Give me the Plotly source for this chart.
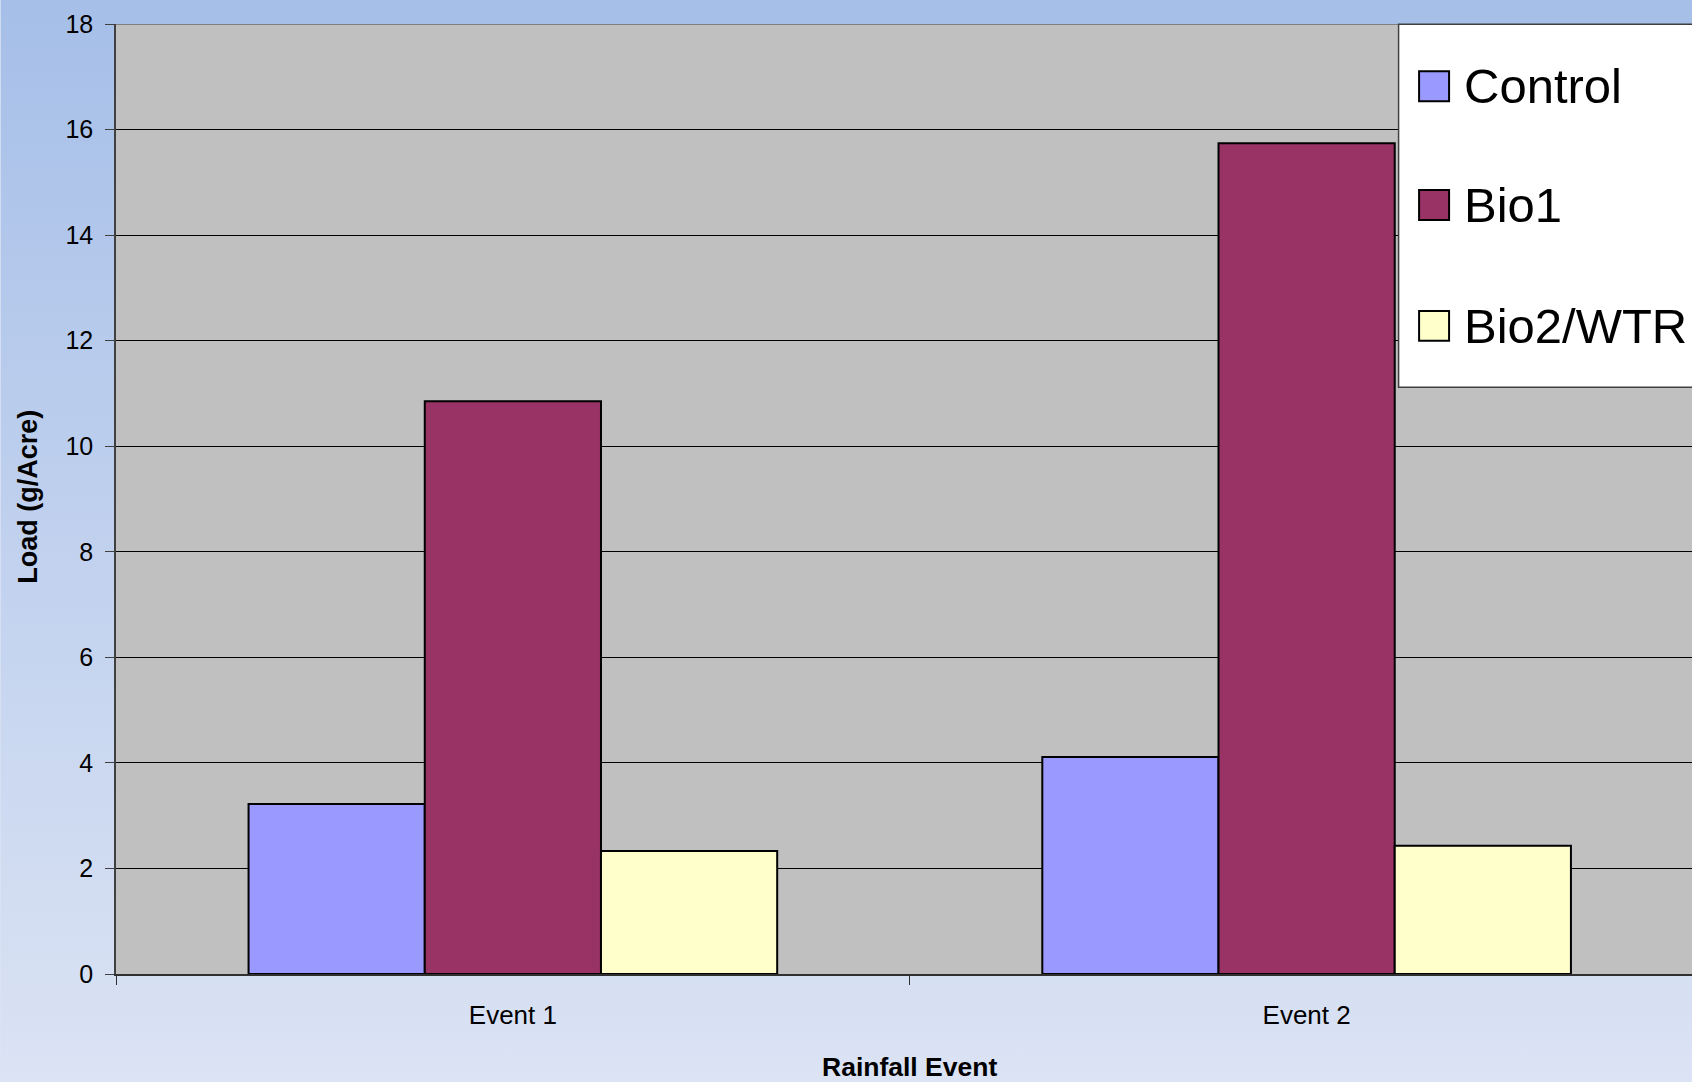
import base64
import plotly.graph_objects as go

# ---- data ----
categories = ["Event 1", "Event 2"]
series_names = ["Control", "Bio1", "Bio2/WTR"]
control = [3.22, 4.11]
bio1 = [10.85, 15.74]
bio2_wtr = [2.33, 2.43]
y_ticks = [0, 2, 4, 6, 8, 10, 12, 14, 16, 18]

series_values = [control, bio1, bio2_wtr]
series_colors = ["#9999FF", "#993366", "#FFFFCC"]

# ---- figure geometry (pixels) ----
FIG_W, FIG_H = 1692, 1082
LEFT, TOP, BOTTOM = 115.5, 24.0, 974.4
PLOT_W = FIG_W - LEFT
PLOT_H = BOTTOM - TOP
CAT_W = 794.0  # width of one category slot


def px_x(px):
    return (px - LEFT) / PLOT_W


def px_y(py):
    return (BOTTOM - py) / PLOT_H


FONT = "Liberation Sans, Arial, sans-serif"

fig = go.Figure()
for name, vals, color in zip(series_names, series_values, series_colors):
    fig.add_trace(go.Bar(
        x=categories, y=vals, name=name,
        marker=dict(color=color, line=dict(color="black", width=2)),
        showlegend=False,
    ))

# vertical gradient behind everything
svg = (
    '<svg xmlns="http://www.w3.org/2000/svg" width="100" height="100" preserveAspectRatio="none">'
    '<defs><linearGradient id="g" x1="0" y1="0" x2="0" y2="1">'
    '<stop offset="0" stop-color="#A6BFE8"/><stop offset="1" stop-color="#DBE3F4"/>'
    '</linearGradient></defs><rect width="100" height="100" fill="url(#g)"/></svg>'
)
bg_src = "data:image/svg+xml;base64," + base64.b64encode(svg.encode()).decode()

shapes = [
    # grey plot area
    dict(type="rect", xref="paper", yref="paper", x0=0, x1=1, y0=0, y1=1,
         fillcolor="#C0C0C0", line=dict(width=0), layer="below"),
    # top border of the plot area
    dict(type="line", xref="paper", yref="y", x0=0, x1=1, y0=18, y1=18,
         line=dict(color="#808080", width=2)),
    # legend box
    dict(type="rect", xref="paper", yref="paper",
         x0=px_x(1398.5), x1=px_x(1720), y0=px_y(387.5), y1=px_y(24.3),
         fillcolor="white", line=dict(color="#404040", width=1.5)),
]

annotations = []
swatch_centers = [86.3, 205.0, 326.0]
for name, color, cy in zip(series_names, series_colors, swatch_centers):
    shapes.append(dict(
        type="rect", xref="paper", yref="paper",
        x0=px_x(1419), x1=px_x(1449), y0=px_y(cy + 15), y1=px_y(cy - 15),
        fillcolor=color, line=dict(color="black", width=2)))
    annotations.append(dict(
        text=name, xref="paper", yref="paper", x=px_x(1462), y=px_y(cy),
        xanchor="left", yanchor="middle", showarrow=False,
        font=dict(family=FONT, size=49, color="black")))

# axis titles
annotations.append(dict(
    text="<b>Load (g/Acre)</b>", xref="paper", yref="paper",
    x=px_x(28), y=px_y(497.5), xanchor="center", yanchor="middle",
    textangle=-90, showarrow=False,
    font=dict(family=FONT, size=27, color="black")))
annotations.append(dict(
    text="<b>Rainfall Event</b>", xref="paper", yref="paper",
    x=px_x(909.5), y=px_y(1067.5), xanchor="center", yanchor="middle",
    showarrow=False, font=dict(family=FONT, size=26.5, color="black")))

fig.update_layout(
    width=FIG_W, height=FIG_H,
    margin=dict(l=LEFT, r=0, t=TOP, b=FIG_H - BOTTOM, pad=0),
    paper_bgcolor="#DBE3F4",
    plot_bgcolor="rgba(0,0,0,0)",
    barmode="group", bargap=0.334, bargroupgap=0,
    shapes=shapes, annotations=annotations,
    images=[dict(source=bg_src, xref="paper", yref="paper",
                 x=-LEFT / PLOT_W, y=1 + TOP / PLOT_H,
                 sizex=FIG_W / PLOT_W, sizey=FIG_H / PLOT_H,
                 xanchor="left", yanchor="top", sizing="stretch", layer="below")],
    font=dict(family=FONT, color="black"),
)

fig.update_xaxes(
    type="category", range=[-0.5, -0.5 + PLOT_W / CAT_W],
    tickson="boundaries", ticks="outside", ticklen=9, tickcolor="#303030",
    showline=True, linecolor="#303030", linewidth=2,
    showgrid=False, zeroline=False,
    tickfont=dict(family=FONT, size=26, color="black"),
    ticklabelstandoff=17,
)
fig.update_yaxes(
    range=[0, 18], tickvals=y_ticks, ticktext=[str(v) for v in y_ticks],
    ticks="outside", ticklen=9, tickcolor="#404040",
    showline=True, linecolor="#404040", linewidth=1.5,
    showgrid=True, gridcolor="black", gridwidth=1, zeroline=False,
    tickfont=dict(family=FONT, size=25, color="black"),
    ticklabelstandoff=7,
)

fig.write_html("out.html")
